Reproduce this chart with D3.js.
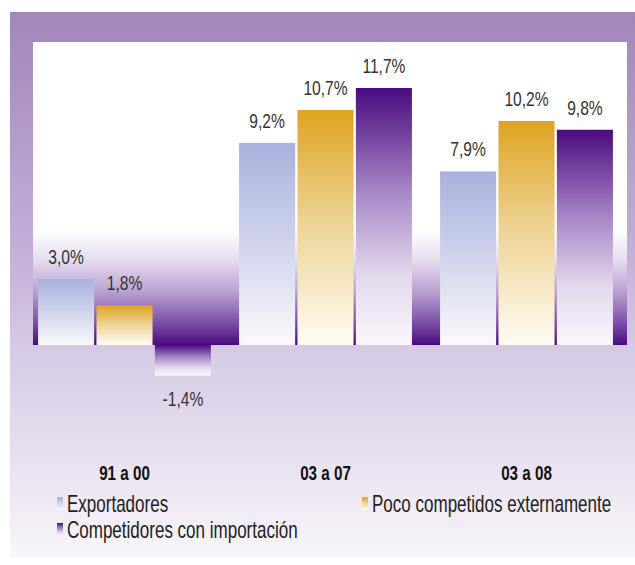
<!DOCTYPE html>
<html><head><meta charset="utf-8">
<script src="https://cdn.jsdelivr.net/npm/d3@7/dist/d3.min.js"></script>
<style>
html,body{margin:0;padding:0;background:#fff;}
svg{display:block;}
text{font-family:'Liberation Sans',Arial,sans-serif;}
</style></head>
<body>
<svg id="chart" width="635" height="565"></svg>
<script>
const categories = ["91 a 00", "03 a 07", "03 a 08"];
const seriesNames = ["Exportadores", "Poco competidos externamente", "Competidores con importación"];
const exportadores = [3.0, 9.2, 7.9];
const pocoCompetidos = [1.8, 10.7, 10.2];
const competidoresImport = [-1.4, 11.7, 9.8];
const valueLabels = [["3,0%","9,2%","7,9%"],["1,8%","10,7%","10,2%"],["-1,4%","11,7%","9,8%"]];

const seriesValues = [exportadores, pocoCompetidos, competidoresImport];
const svg = d3.select("#chart");
const defs = svg.append("defs");

function grad(id, stops) {
  const g = defs.append("linearGradient").attr("id", id)
    .attr("x1", 0).attr("y1", 0).attr("x2", 0).attr("y2", 1);
  stops.forEach(s => g.append("stop").attr("offset", s[0]).attr("stop-color", s[1]));
}
grad("gOuter", [[0, "#a286bb"], [0.45, "#c4b0d9"], [0.62, "#d6cae5"], [0.85, "#ebe4f1"], [1, "#f8f5fa"]]);
grad("gInner", [[0, "#ffffff"], [0.62, "#ffffff"], [0.72, "#e6dcef"], [0.82, "#bba3d2"], [0.92, "#8055a9"], [1, "#4a0a7e"]]);
const barGrads = ["gExp", "gPoco", "gComp"];
grad("gExp", [[0, "#a7b1dc"], [0.5, "#d0d4ec"], [1, "#fbf9fc"]]);
grad("gPoco", [[0, "#dea41f"], [0.45, "#ecd08e"], [1, "#fffcf4"]]);
grad("gComp", [[0, "#4b0b7f"], [0.4, "#a585c6"], [0.72, "#e2d6ec"], [1, "#faf7fc"]]);

function narrowText(parent, x, y, str, size, sx, opts = {}) {
  return parent.append("text")
    .attr("transform", `translate(${x},${y}) scale(${sx},1)`)
    .attr("text-anchor", opts.anchor || "start")
    .attr("font-size", size)
    .attr("font-weight", opts.weight || "normal")
    .attr("fill", opts.fill || "#222")
    .text(str);
}

// frame
svg.append("rect").attr("x", 10).attr("y", 12).attr("width", 625).attr("height", 545).attr("fill", "url(#gOuter)");

const y = d3.scaleLinear().domain([0, 11.7]).range([345, 88]);
const x0 = d3.scaleBand().domain(categories).range([24, 627]).paddingInner(0.14).paddingOuter(0.07);
const x1 = d3.scaleBand().domain(d3.range(3)).range([0, x0.bandwidth()]).paddingInner(0.04);

// inner panel above zero
svg.append("rect").attr("x", 33).attr("y", 42).attr("width", 594).attr("height", y(0) - 42)
  .attr("fill", "url(#gInner)");

const groups = svg.append("g").selectAll("g").data(categories).join("g")
  .attr("transform", d => `translate(${x0(d)},0)`);

groups.each(function(cat, ci) {
  const g = d3.select(this);
  seriesValues.forEach((vals, si) => {
    const v = vals[ci];
    g.append("rect")
      .attr("x", x1(si)).attr("width", x1.bandwidth())
      .attr("y", y(Math.max(0, v))).attr("height", Math.abs(y(v) - y(0)))
      .attr("fill", `url(#${barGrads[si]})`);
    narrowText(g, x1(si) + x1.bandwidth() / 2, v >= 0 ? y(v) - 15 : y(v) + 30,
      valueLabels[si][ci], 19.5, 0.8, {anchor: "middle", fill: "#333"});
  });
});

// category labels
const axis = svg.append("g").attr("transform", "translate(0,480)")
  .call(d3.axisBottom(x0).tickSize(0).tickPadding(0));
axis.select(".domain").remove();
axis.selectAll("text")
  .attr("y", 0).attr("dy", 0)
  .attr("transform", "scale(0.76,1)")
  .attr("font-size", 20).attr("font-weight", "bold").attr("fill", "#111")
  .style("font-family", "'Liberation Sans',Arial,sans-serif");

// legend
const legendPos = [[57, 512], [362, 512], [57, 538]];
const legend = svg.append("g");
seriesNames.forEach((name, i) => {
  const [lx, ly] = legendPos[i];
  legend.append("rect").attr("x", lx).attr("y", ly - 15).attr("width", 6).attr("height", 13)
    .attr("fill", `url(#${barGrads[i]})`);
  narrowText(legend, lx + 10, ly, name, 23, 0.74, {fill: "#222"});
});
</script>
</body></html>
